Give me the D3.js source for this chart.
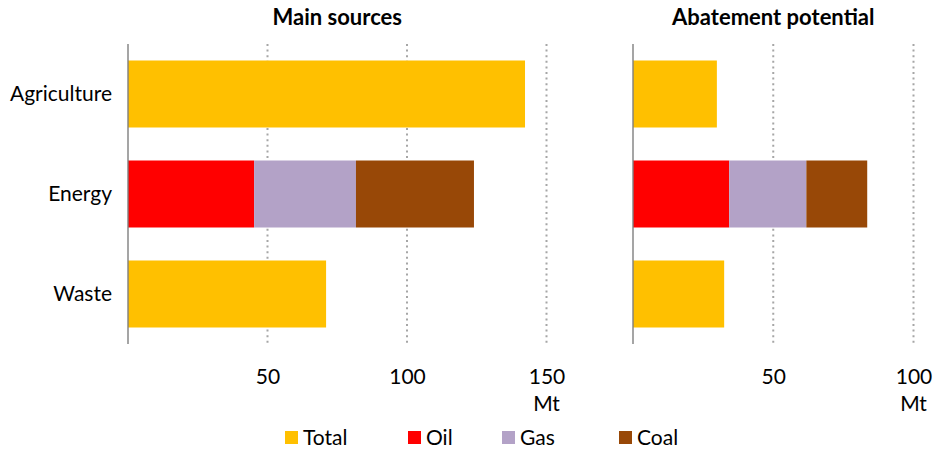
<!DOCTYPE html>
<html><head><meta charset="utf-8">
<script src="https://cdn.jsdelivr.net/npm/d3@7"></script>
<style>body{margin:0;background:#fff}svg{display:block}text{font-family:Lato,"Open Sans",sans-serif;fill:#000}</style>
</head><body>
<svg id="c" width="939" height="451"></svg>
<script>
const categories = ["Agriculture", "Energy", "Waste"];
const seriesNames = ["Total", "Oil", "Gas", "Coal"];
const seriesColors = ["#FFC000", "#FF0000", "#B3A2C7", "#984807"];
// Main sources (Mt)
const mainTotal = [142.3, 0, 71.0];
const mainOil   = [0, 45.2, 0];
const mainGas   = [0, 36.5, 0];
const mainCoal  = [0, 42.3, 0];
// Abatement potential (Mt)
const abateTotal = [29.9, 0, 32.5];
const abateOil   = [0, 34.3, 0];
const abateGas   = [0, 27.5, 0];
const abateCoal  = [0, 21.7, 0];
const mainTicks = [50, 100, 150];
const abateTicks = [50, 100];
const panelTitles = ["Main sources", "Abatement potential"];
const unitLabel = "Mt";

const FS = "21px";
const svg = d3.select("#c");
const plotTop = 44, plotBottom = 344;
const y = d3.scaleBand().domain(categories).range([plotTop, plotBottom]).paddingInner(0.33).paddingOuter(0.165);

function panel(x0, x1, maxV, ticks, title, series) {
  const x = d3.scaleLinear().domain([0, maxV]).range([x0, x1]);
  const g = svg.append("g");
  g.selectAll("line.grid").data(ticks).enter().append("line")
    .attr("x1", d => x(d)).attr("x2", d => x(d)).attr("y1", plotTop).attr("y2", plotBottom)
    .attr("stroke", "#a6a6a6").attr("stroke-width", 2).attr("stroke-dasharray", "2,3.6");
  const rows = categories.map((c, i) => {
    const o = {cat: c};
    seriesNames.forEach((s, k) => o[s] = series[k][i]);
    return o;
  });
  const stack = d3.stack().keys(seriesNames)(rows);
  stack.forEach((layer, k) => {
    g.selectAll(null).data(layer.filter(d => d[1] - d[0] > 0)).enter().append("rect")
      .attr("x", d => x(d[0])).attr("width", d => x(d[1]) - x(d[0]))
      .attr("y", d => y(d.data.cat)).attr("height", y.bandwidth())
      .attr("fill", seriesColors[k]);
  });
  g.append("line").attr("x1", x(0)).attr("x2", x(0)).attr("y1", plotTop).attr("y2", plotBottom)
    .attr("stroke", "#7f7f7f").attr("stroke-width", 1.4);
  const ax = d3.axisBottom(x).tickValues(ticks).tickSize(0).tickPadding(0);
  const ag = g.append("g").attr("transform", `translate(0,${plotBottom})`).call(ax);
  ag.select(".domain").remove();
  ag.selectAll("text").attr("dy", null).attr("y", 40).attr("fill", "#000").style("font-size", FS)
    .style("font-family", "Lato, sans-serif");
  g.append("text").attr("x", x(ticks[ticks.length - 1])).attr("y", 411)
    .attr("text-anchor", "middle").style("font-size", FS).text(unitLabel);
  g.append("text").attr("x", (x0 + x1) / 2).attr("y", 25).attr("text-anchor", "middle")
    .style("font-size", "22px").style("font-weight", "bold").text(title);
  return x;
}

panel(128, 546.5, 150, mainTicks, panelTitles[0], [mainTotal, mainOil, mainGas, mainCoal]);
panel(633, 913.5, 100, abateTicks, panelTitles[1], [abateTotal, abateOil, abateGas, abateCoal]);

svg.selectAll("text.cat").data(categories).enter().append("text")
  .attr("x", 112).attr("y", d => y(d) + y.bandwidth() / 2).attr("dy", "0.35em")
  .attr("text-anchor", "end").style("font-size", FS).text(d => d);

const legX = [285, 408, 502, 619];
const lg = svg.append("g");
seriesNames.forEach((s, i) => {
  lg.append("rect").attr("x", legX[i]).attr("y", 431).attr("width", 13).attr("height", 13).attr("fill", seriesColors[i]);
  lg.append("text").attr("x", legX[i] + 18).attr("y", 437.5).attr("dy", "0.35em")
    .style("font-size", FS).text(s);
});
</script>
</body></html>
